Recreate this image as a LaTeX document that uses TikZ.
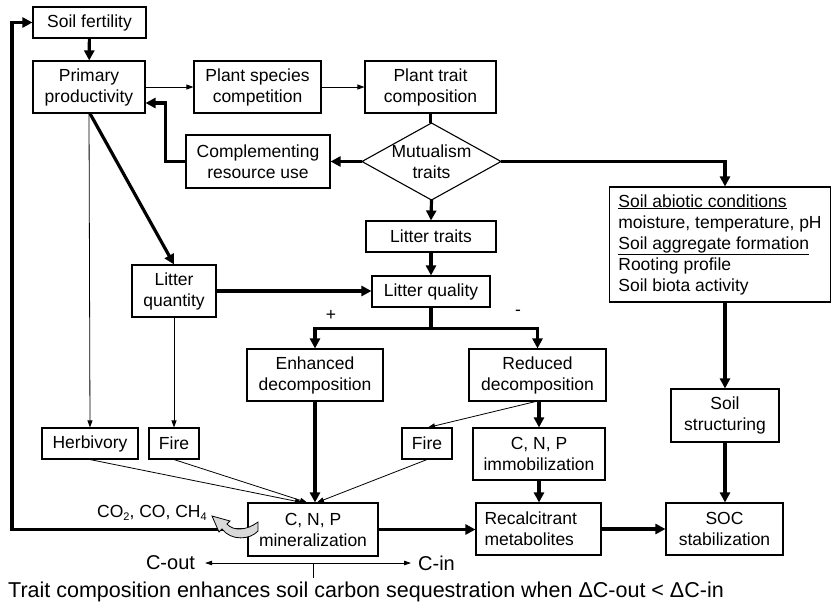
\documentclass[tikz,border=0pt]{standalone}
\usepackage{fontspec}
\setmainfont{Liberation Sans}
\usetikzlibrary{arrows.meta,calc}
\newcommand{\fs}{\fontsize{17.5}{21}\selectfont}
\newcommand{\fb}{\fontsize{20}{24}\selectfont}
\newcommand{\fc}{\fontsize{21.5}{25}\selectfont}
\newcommand{\subsc}[1]{\raisebox{-3.5pt}{\fontsize{11}{11}\selectfont #1}}
\tikzset{
  box/.style={draw, line width=1.1pt, align=center, inner sep=0pt, font=\fs},
  lbl/.style={inner sep=0pt, font=\fs},
  thk/.style={line width=3.2pt, -{Triangle[length=10pt,width=10pt]}},
  thkline/.style={line width=3.2pt},
  thn/.style={line width=0.8pt, -{Triangle[length=7pt,width=5pt]}},
}
\begin{document}
\begin{tikzpicture}[x=1pt,y=-1pt]
\useasboundingbox (0,0) rectangle (832,606);
% nodes
\node[box, minimum width=113, minimum height=31] (sf) at (89.5,22.5) {Soil fertility};
\node[box, minimum width=112, minimum height=52] (pp) at (89,87) {Primary\\productivity};
\node[box, minimum width=127, minimum height=52] (psc) at (257.5,87) {Plant species\\competition};
\node[box, minimum width=131, minimum height=52] (ptc) at (430.5,87) {Plant trait\\composition};
\node[box, minimum width=144, minimum height=53] (cru) at (258,161.5) {Complementing\\resource use};
\node[lbl, align=center] (mut) at (431.5,161.5) {Mutualism\\traits};
\coordinate (mT) at (431.5,123);
\coordinate (mB) at (431.5,200);
\coordinate (mL) at (362,161.5);
\coordinate (mR) at (501,161.5);
\draw[line width=1.1pt] (mT) -- (mR) -- (mB) -- (mL) -- cycle;
\node[box, minimum width=130, minimum height=31] (lt) at (431,236.5) {Litter traits};
\node[box, minimum width=118, minimum height=31] (lq) at (431,291.5) {Litter quality};
\node[box, minimum width=221, minimum height=115, align=left] (sac) at (720,244.5)
  {\underline{Soil abiotic conditions}\\moisture, temperature, pH\\\underline{Soil aggregate formation}\\Rooting profile\\Soil biota activity};
\node[box, minimum width=84, minimum height=52] (lqt) at (174,291) {Litter\\quantity};
\node[box, minimum width=136, minimum height=52] (ed) at (315,375) {Enhanced\\decomposition};
\node[box, minimum width=137, minimum height=52] (rd) at (537.5,375) {Reduced\\decomposition};
\node[box, minimum width=132, minimum height=52] (imm) at (539,454) {C, N, P\\immobilization};
\node[box, minimum width=50, minimum height=31] (fireR) at (427,443.5) {Fire};
\node[box, minimum width=96, minimum height=31] (herb) at (90,443.5) {Herbivory};
\node[box, minimum width=50, minimum height=31] (fireL) at (174,443.5) {Fire};
\node[box, minimum width=130, minimum height=53] (min) at (313,529.5) {C, N, P\\mineralization};
\node[box, minimum width=125, minimum height=52, text width=108, align=left] (rm) at (538.5,529) {Recalcitrant\\metabolites};
\node[box, minimum width=108, minimum height=53] (ss) at (725,415.5) {Soil\\structuring};
\node[box, minimum width=117, minimum height=52] (soc) at (724.5,529) {SOC\\stabilization};
\node[lbl] (plus) at (331,315) {+};
\node[lbl] (minus) at (518,313) {-};
\node[lbl, anchor=west] (co2) at (97,513) {CO\subsc{2}, CO, CH\subsc{4}};
\node[lbl, font=\fb] (cout) at (170.5,563) {C-out};
\node[lbl, font=\fb, anchor=west] (cin) at (418,563) {C-in};
\node[lbl, font=\fc, anchor=west] (concl) at (8,592) {Trait composition enhances soil carbon sequestration when ΔC-out < ΔC-in};
% connectors
\draw[thk] (sf) -- (pp);
\draw[thn] (pp.east) -- (psc.west);
\draw[thn] (psc.east) -- (ptc.west);
\draw[thkline] (ptc.south) -- (ptc.south |- mT);
\draw[thk] (mL) -- (cru.east);
\draw[thk] (cru.west) -- ++(-20,0) |- ($(pp.east)+(0,16)$);
\draw[thk] (mB) -- (lt.north);
\draw[thk] (lt.south) -- (lq.north);
\draw[thk] (mR) -- (mR -| ss.north) -- (ss.north |- sac.north);
\draw[thn] (pp.south) -- (herb.north);
\draw[thk] ($(pp.south)+(1,0)$) -- (lqt.north);
\draw[thk] (lqt.east) -- (lq.west |- lqt.east);
\draw[thn] (lqt.south) -- (fireL.north);
\draw[thkline] (lq.south) -- ++(0,21) coordinate (br);
\draw[thk] (br) -| (ed.north);
\draw[thk] (br) -| (rd.north);
\draw[thn] ($(rd.south)+(-2,0)$) -- ($(fireR.north)+(1,0)$);
\draw[thk] ($(rd.south)+(1.5,0)$) -- (imm.north);
\draw[thk] (imm.south) -- (imm.south |- rm.north);
\draw[thk] (ed.south) -- (ed.south |- min.north);
\draw[thn] (herb.south) -- ($(min.north)+(-11,0)$);
\draw[thn] (fireL.south) -- ($(min.north)+(-6,0)$);
\draw[thn] (fireR.south) -- ($(min.north)+(4,0)$);
\draw[thk] (min.east) -- (rm.west |- min.east);
\draw[thk] (rm.east) -- (soc.west |- rm.east);
\draw[thk] (ss.north |- sac.south) -- (ss.north);
\draw[thk] (ss.south) -- (ss.south |- soc.north);
\draw[thk] (min.west) -- (12,529.5) |- (sf.west);
% grey curved arrow
\draw[line width=0.8pt, fill=black!15]
  (258,522) .. controls (246,531) and (233,531) .. (227,524)
  -- (230,521) -- (212,516) -- (219,532) -- (222,529)
  .. controls (231,541) and (250,540) .. (258,531) -- cycle;
% C-out / C-in
\draw[line width=0.8pt, {Triangle[length=7pt,width=4.5pt]}-{Triangle[length=7pt,width=4.5pt]}]
  ($(cout.east)+(10,0)$) -- ($(cin.west)+(-7,0)$);
\draw[line width=0.8pt] (min.south |- cout.east) -- ++(0,15);
\end{tikzpicture}
\end{document}
